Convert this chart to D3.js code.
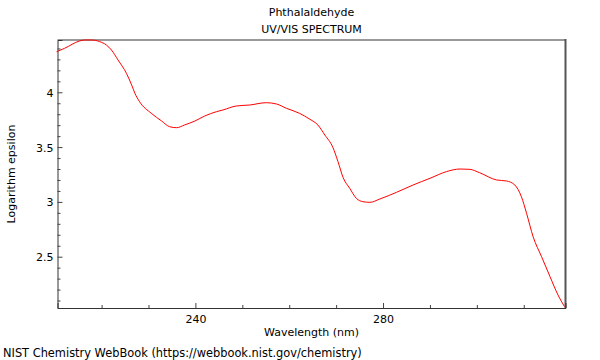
<!DOCTYPE html>
<html><head><meta charset="utf-8">
<script src="https://cdn.jsdelivr.net/npm/d3@7"></script>
<style>body{margin:0;background:#fff}svg{display:block}text{font-family:"DejaVu Sans",sans-serif;font-size:11px;fill:#000}</style>
</head><body>
<svg id="c" width="600" height="360"></svg>
<script>
const wavelength = [210.4,212.1,215.3,216.4,217.8,219.6,221.0,222.1,223.5,225.3,226.4,227.1,228.1,230.6,232.8,234.5,236.0,237.7,239.9,242.0,244.5,245.9,248.7,251.6,255.1,257.3,259.4,262.2,264.4,266.1,267.6,269.3,270.4,271.5,272.9,274.3,275.7,277.2,279.3,282.9,286.4,290.0,293.5,296.4,298.5,300.6,304.2,306.3,308.1,309.5,310.6,312.0,313.8,315.6,317.3,318.7];
const logEpsilon = [4.370,4.401,4.468,4.477,4.477,4.462,4.432,4.386,4.295,4.173,4.067,3.991,3.914,3.808,3.738,3.686,3.677,3.702,3.738,3.784,3.823,3.839,3.875,3.884,3.905,3.893,3.854,3.808,3.754,3.702,3.610,3.498,3.367,3.221,3.124,3.033,3.002,2.996,3.026,3.088,3.154,3.215,3.276,3.300,3.297,3.266,3.200,3.191,3.154,3.047,2.896,2.682,2.500,2.318,2.151,2.044];
const xMajorTicks = [240, 280];
const xMinorTicks = [220,230,250,260,270,290,300,310];
const yMajorTicks = [2.5, 3, 3.5, 4];
const yMinorTicks = [2.1,2.2,2.3,2.4,2.6,2.7,2.8,2.9,3.1,3.2,3.3,3.4,3.6,3.7,3.8,3.9,4.1,4.2,4.3,4.4];
const titleLines = ["Phthalaldehyde", "UV/VIS SPECTRUM"];

const svg = d3.select("#c");
const L = 57.5, R = 565.5, T = 40, B = 308;
const x = d3.scaleLinear().domain([210.6, 318.9]).range([L, R]);
const y = d3.scaleLinear().domain([2.032, 4.477]).range([B, T]);

// frame
svg.append("line").attr("x1",L).attr("x2",R).attr("y1",T).attr("y2",T).attr("stroke","#999").attr("stroke-width",2);
svg.append("line").attr("x1",R).attr("x2",R).attr("y1",T-1).attr("y2",B).attr("stroke","#555").attr("stroke-width",2);

// axes with inward ticks
const xAxis = svg.append("g").attr("transform",`translate(0,${B})`)
  .call(d3.axisBottom(x).tickValues(xMajorTicks).tickSize(-5).tickPadding(15).tickFormat(d3.format("d")));
const xMinor = svg.append("g").attr("transform",`translate(0,${B})`)
  .call(d3.axisBottom(x).tickValues(xMinorTicks).tickSize(-3).tickFormat(""));
const yAxis = svg.append("g").attr("transform",`translate(${L},0)`)
  .call(d3.axisLeft(y).tickValues(yMajorTicks).tickSize(-5).tickPadding(9).tickFormat(d => String(d)));
const yMinor = svg.append("g").attr("transform",`translate(${L},0)`)
  .call(d3.axisLeft(y).tickValues(yMinorTicks).tickSize(-3).tickFormat(""));
svg.selectAll(".domain").attr("stroke","#333");
xMinor.select(".domain").remove(); yMinor.select(".domain").remove();
svg.selectAll(".tick line").attr("stroke","#444");
svg.selectAll(".tick text").attr("font-family","DejaVu Sans").attr("font-size",11).attr("fill","#000");
xAxis.selectAll(".tick text").attr("dy",null).attr("y",15);
yAxis.selectAll(".tick text").attr("dy","0.36em").attr("x",-4);

// line
const pts = wavelength.map((w,i)=>[w, logEpsilon[i]]);
svg.append("path").datum(pts)
  .attr("fill","none").attr("stroke","#ff0000").attr("stroke-width",1)
  .attr("d", d3.line().x(d=>x(d[0])).y(d=>y(d[1])).curve(d3.curveMonotoneX));

// texts
const cx = (L+R)/2;
svg.append("text").attr("x",cx).attr("y",16).attr("text-anchor","middle").text(titleLines[0]);
svg.append("text").attr("x",cx).attr("y",33).attr("text-anchor","middle").text(titleLines[1]);
svg.append("text").attr("x",cx).attr("y",336).attr("text-anchor","middle").text("Wavelength (nm)");
svg.append("text").attr("transform","translate(15,174) rotate(-90)").attr("text-anchor","middle").text("Logarithm epsilon");
svg.append("text").attr("x",3).attr("y",357).style("font-size","11.4px").text("NIST Chemistry WebBook (https://webbook.nist.gov/chemistry)");
</script>
</body></html>
